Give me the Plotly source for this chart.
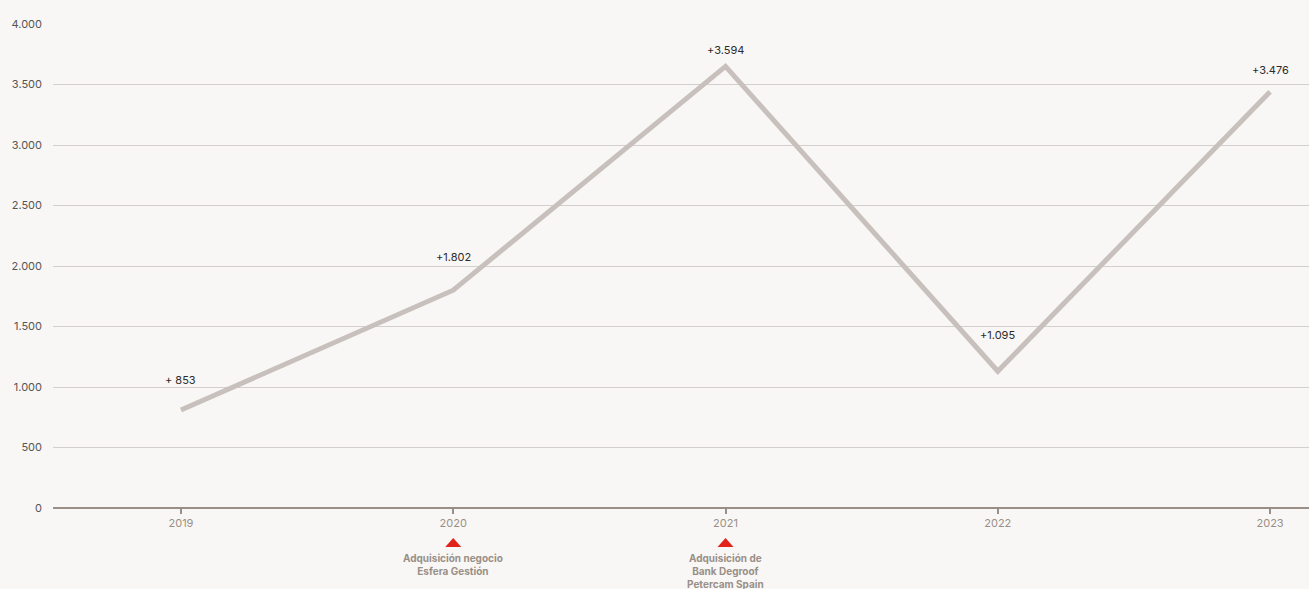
import plotly.graph_objects as go

years = [2019, 2020, 2021, 2022, 2023]
line_values = [810, 1800, 3650, 1130, 3440]
label_texts = ["+ 853", "+1.802", "+3.594", "+1.095", "+3.476"]
label_shift = [30, 33, 16, 36, 22]
y_ticks = [0, 500, 1000, 1500, 2000, 2500, 3000, 3500, 4000]
event_years = [2020, 2021]
event_texts = ["<b>Adquisición negocio<br>Esfera Gestión</b>",
               "<b>Adquisición de<br>Bank Degroof<br>Petercam Spain</b>"]

FONT = "Inter, Roboto, sans-serif"
fig = go.Figure()
fig.add_trace(go.Scatter(
    x=years, y=line_values, mode="lines",
    line=dict(color="#c8c0bd", width=5),
    hoverinfo="skip", showlegend=False, cliponaxis=False,
))

for x, y, t, s in zip(years, line_values, label_texts, label_shift):
    fig.add_annotation(x=x, y=y, text=t, showarrow=False, yshift=s,
                       font=dict(family=FONT, size=11, color="#2b2b2b"),
                       xanchor="center", yanchor="middle")

for x, t in zip(event_years, event_texts):
    fig.add_shape(type="path", xref="x", yref="paper",
                  xsizemode="pixel", ysizemode="pixel",
                  xanchor=x, yanchor=0,
                  path="M -8,-39 L 8,-39 L 0,-30 Z",
                  fillcolor="#e2231a", line=dict(width=0), layer="above")
    fig.add_annotation(x=x, y=0, yref="y", text=t, showarrow=False,
                       yshift=-42, font=dict(family=FONT, size=10, color="#9a8f87"),
                       xanchor="center", yanchor="top", align="center")

fig.update_layout(
    width=1309, height=589,
    margin=dict(l=53, r=0, t=24, b=81),
    paper_bgcolor="#f8f7f5", plot_bgcolor="#f8f7f5",
    separators=",.",
    font=dict(family=FONT),
    xaxis=dict(
        range=[2018.53, 2023.143], tickvals=years, ticktext=[str(y) for y in years],
        showgrid=False, zeroline=False, showline=False,
        ticks="outside", ticklen=5, tickwidth=1.5, tickcolor="#9a8f87",
        tickfont=dict(size=11, color="#9a8f87", family=FONT),
    ),
    yaxis=dict(
        range=[0, 4000], tickvals=y_ticks, tickformat=",d",
        showgrid=True, gridcolor="#d3cfcc", gridwidth=1,
        zeroline=True, zerolinecolor="#9a8f87", zerolinewidth=2,
        showline=False, ticks="", ticklabelstandoff=10,
        tickfont=dict(size=11, color="#555555", family=FONT),
    ),
)
fig.write_html("out.html")
